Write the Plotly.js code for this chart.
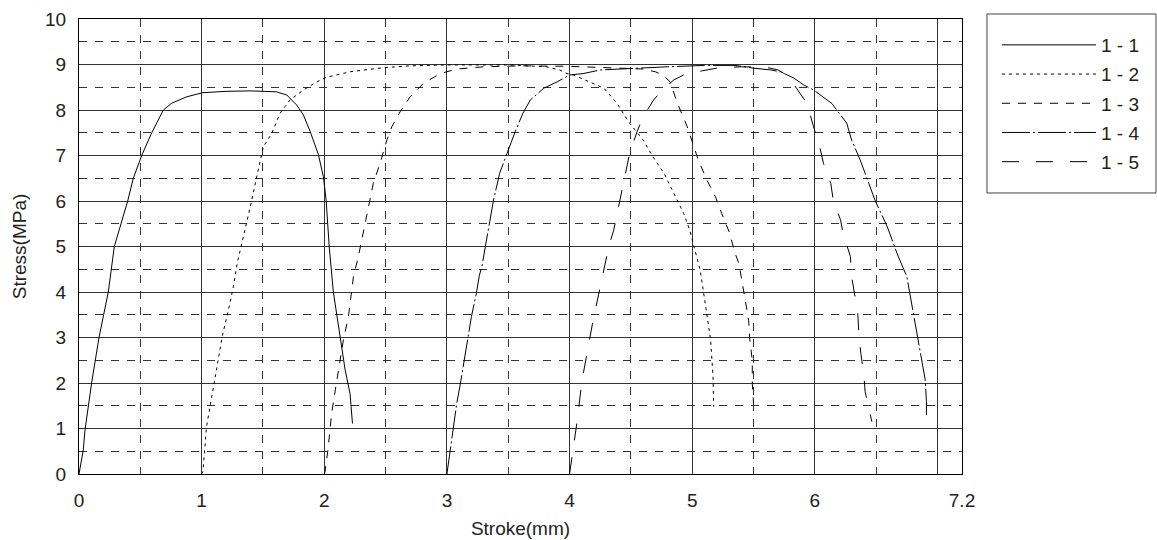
<!DOCTYPE html>
<html>
<head>
<meta charset="utf-8">
<script src="https://cdn.plot.ly/plotly-3.0.1.min.js"></script>
<style>html,body{margin:0;padding:0;background:#fff;}#chart{width:1157px;height:540px;}</style>
</head>
<body>
<div id="chart"></div>
<script>
// Series names
const seriesNames = ["1 - 1", "1 - 2", "1 - 3", "1 - 4", "1 - 5"];

// 1 - 1
const s11x = [0, 0.035, 0.049, 0.103, 0.163, 0.239, 0.288, 0.397, 0.443, 0.511, 0.593, 0.688, 0.756, 0.878, 1.009, 1.2, 1.4, 1.61, 1.694, 1.775, 1.83, 1.886, 1.952, 1.993, 2.015, 2.04, 2.074, 2.10, 2.135, 2.17, 2.21, 2.23];
const s11y = [0, 0.53, 0.97, 2.0, 3.0, 4.0, 5.0, 6.0, 6.5, 7.0, 7.5, 8.0, 8.15, 8.29, 8.38, 8.41, 8.42, 8.4, 8.33, 8.11, 7.89, 7.52, 7.02, 6.53, 6.02, 5.01, 4.0, 3.53, 2.87, 2.29, 1.77, 1.11];

// 1 - 2
const s12x = [1.0, 1.01, 1.04, 1.074, 1.10, 1.136, 1.17, 1.218, 1.259, 1.29, 1.368, 1.409, 1.449, 1.503, 1.572, 1.64, 1.72, 1.83, 1.94, 2.02, 2.21, 2.48, 2.7, 3.0, 3.52, 3.81, 3.92, 3.98, 4.03, 4.195, 4.28, 4.386, 4.49, 4.60, 4.68, 4.77, 4.85, 4.93, 4.98, 5.01, 5.05, 5.065, 5.09, 5.12, 5.15, 5.17, 5.175];
const s12y = [0, 0.05, 1.04, 1.55, 1.99, 2.54, 3.05, 3.6, 4.12, 4.63, 5.51, 6.02, 6.53, 7.19, 7.49, 7.93, 8.22, 8.44, 8.62, 8.72, 8.84, 8.93, 8.97, 8.99, 8.99, 8.95, 8.88, 8.8, 8.77, 8.59, 8.48, 8.15, 7.71, 7.34, 6.97, 6.61, 6.17, 5.73, 5.36, 5.07, 4.63, 4.48, 4.04, 3.46, 2.95, 2.14, 1.48];

// 1 - 3
const s13x = [2.0, 2.006, 2.03, 2.06, 2.09, 2.115, 2.156, 2.197, 2.238, 2.278, 2.347, 2.40, 2.455, 2.51, 2.55, 2.618, 2.70, 2.81, 2.945, 3.08, 3.30, 3.6, 4.0, 4.4, 4.6, 4.70, 4.76, 4.82, 4.875, 4.96, 5.0, 5.05, 5.12, 5.19, 5.24, 5.30, 5.35, 5.38, 5.405, 5.43, 5.46, 5.47, 5.49, 5.49, 5.5];
const s13y = [0, 0.05, 0.53, 1.33, 1.85, 2.29, 2.95, 3.46, 4.34, 4.78, 5.66, 6.39, 6.83, 7.34, 7.63, 7.96, 8.29, 8.59, 8.8, 8.9, 8.95, 8.97, 8.96, 8.93, 8.9, 8.84, 8.77, 8.62, 8.18, 7.63, 7.3, 6.9, 6.46, 6.09, 5.73, 5.33, 4.85, 4.63, 4.26, 3.82, 3.38, 2.95, 2.5, 1.99, 1.55];

// 1 - 4
const s14x = [3.0, 3.026, 3.05, 3.08, 3.11, 3.14, 3.175, 3.20, 3.24, 3.265, 3.285, 3.34, 3.38, 3.43, 3.49, 3.556, 3.62, 3.68, 3.79, 3.90, 4.0, 4.11, 4.25, 4.52, 4.8, 5.1, 5.35, 5.5, 5.64, 5.72, 5.83, 5.91, 5.99, 6.14, 6.26, 6.30, 6.37, 6.44, 6.49, 6.59, 6.67, 6.75, 6.79, 6.83, 6.87, 6.90, 6.91, 6.91];
const s14y = [0, 0.49, 1.04, 1.55, 1.99, 2.5, 3.02, 3.46, 3.97, 4.37, 4.56, 5.36, 6.02, 6.61, 7.05, 7.52, 7.93, 8.22, 8.48, 8.62, 8.77, 8.80, 8.88, 8.92, 8.95, 8.98, 8.98, 8.92, 8.88, 8.84, 8.70, 8.55, 8.44, 8.14, 7.71, 7.34, 6.9, 6.39, 6.02, 5.44, 4.85, 4.34, 3.75, 3.16, 2.58, 2.07, 1.59, 1.3];

// 1 - 5
const s15x = [4.0, 4.02, 4.045, 4.065, 4.10, 4.135, 4.16, 4.19, 4.22, 4.255, 4.277, 4.32, 4.36, 4.40, 4.47, 4.49, 4.55, 4.60, 4.685, 4.77, 4.85, 4.93, 5.04, 5.20, 5.4, 5.6, 5.70, 5.77, 5.85, 5.935, 5.99, 6.04, 6.07, 6.13, 6.15, 6.21, 6.23, 6.29, 6.30, 6.33, 6.35, 6.36, 6.375, 6.40, 6.41, 6.45, 6.465];
const s15y = [0, 0.38, 0.89, 1.22, 2.03, 2.5, 2.91, 3.35, 3.75, 4.19, 4.48, 5.0, 5.36, 5.87, 6.75, 7.05, 7.52, 7.85, 8.22, 8.48, 8.66, 8.77, 8.84, 8.92, 8.95, 8.94, 8.88, 8.77, 8.48, 8.15, 7.63, 7.19, 6.83, 6.39, 6.02, 5.58, 5.29, 4.78, 4.34, 3.86, 3.53, 3.05, 2.65, 2.18, 1.81, 1.33, 1.15];

// Axis ticks
const xTickVals = [0, 1, 2, 3, 4, 5, 6, 7, 7.2];
const xTickText = ["0", "1", "2", "3", "4", "5", "6", "", "7.2"];
const xMinorVals = [0.5, 1.5, 2.5, 3.5, 4.5, 5.5, 6.5];
const yTickVals = [0, 1, 2, 3, 4, 5, 6, 7, 8, 9, 10];
const yMinorVals = [0.5, 1.5, 2.5, 3.5, 4.5, 5.5, 6.5, 7.5, 8.5, 9.5];

const xs = [s11x, s12x, s13x, s14x, s15x];
const ys = [s11y, s12y, s13y, s14y, s15y];
const dashes = ["solid", "3px,4px", "8px,8px", "28px,3px,2px,3px", "17px,17px"];

const traces = seriesNames.map((n, i) => ({
  type: "scatter", mode: "lines", name: n, legendgroup: "g" + i,
  x: xs[i], y: ys[i],
  line: {color: "#000", width: 1, dash: dashes[i]}
}));

const font = {family: "Liberation Sans, Arial, sans-serif", size: 19, color: "#222"};
const gridCol = "#333";

const layout = {
  width: 1157, height: 540,
  margin: {l: 79, r: 195, t: 19, b: 66},
  paper_bgcolor: "#fff", plot_bgcolor: "#fff",
  font: font,
  showlegend: true,
  legend: {
    x: 1.0396, y: 0.9846, xanchor: "left", yanchor: "top",
    borderwidth: 0, bgcolor: "rgba(0,0,0,0)",
    font: font, itemwidth: 94, tracegroupgap: 1.5
  },
  shapes: [{
    type: "rect", xref: "paper", yref: "paper",
    x0: 1.0283, x1: 1.2197, y0: 0.6176, y1: 1.011,
    line: {color: "#444", width: 1}, fillcolor: "rgba(0,0,0,0)", layer: "below"
  }],
  xaxis: {
    range: [0, 7.2], tickmode: "array", tickvals: xTickVals, ticktext: xTickText,
    showgrid: true, gridcolor: gridCol, gridwidth: 1, zeroline: false,
    showline: true, mirror: true, linecolor: "#000", linewidth: 1,
    ticks: "", ticklabelstandoff: 9,
    minor: {tickmode: "array", tickvals: xMinorVals, showgrid: true, gridcolor: gridCol, gridwidth: 1, griddash: "8px,8px", ticks: ""},
    title: {text: "Stroke(mm)", font: font, standoff: 11},
    automargin: false, fixedrange: true
  },
  yaxis: {
    range: [0, 10], tickmode: "array", tickvals: yTickVals,
    showgrid: true, gridcolor: gridCol, gridwidth: 1, zeroline: false,
    showline: true, mirror: true, linecolor: "#000", linewidth: 1,
    ticks: "", ticklabelstandoff: 8,
    minor: {tickmode: "array", tickvals: yMinorVals, showgrid: true, gridcolor: gridCol, gridwidth: 1, griddash: "8px,8px", ticks: ""},
    title: {text: "Stress(MPa)", font: font, standoff: 13},
    automargin: false, fixedrange: true
  }
};

Plotly.newPlot("chart", traces, layout, {staticPlot: true, displayModeBar: false});
</script>
</body>
</html>
